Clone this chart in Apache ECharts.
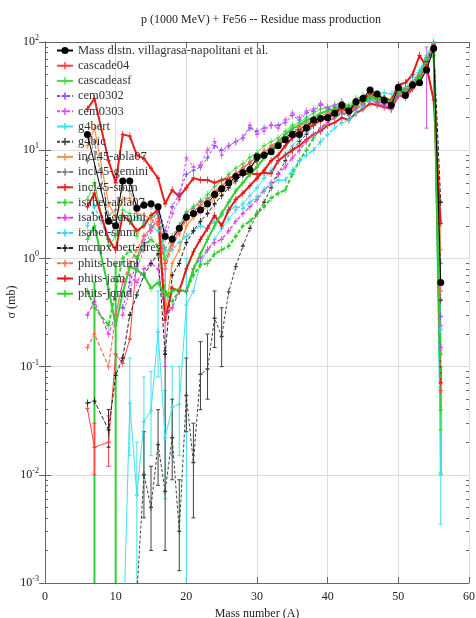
<!DOCTYPE html>
<html>
<head>
<meta charset="utf-8">
<script src="https://cdn.jsdelivr.net/npm/echarts@6/dist/echarts.min.js"></script>
<style>
html,body{margin:0;padding:0;background:#fff;}
#chart{width:476px;height:618px;}
</style>
</head>
<body>
<div id="chart"></div>
<script>
// ---- data (mass numbers A = 6 .. 56) ----
const massNumbers = [6,7,8,9,10,11,12,13,14,15,16,17,18,19,20,21,22,23,24,25,26,27,28,29,30,31,32,33,34,35,36,37,38,39,40,41,42,43,44,45,46,47,48,49,50,51,52,53,54,55,56];

const seriesNames = ['Mass distn. villagrasa-napolitani et al.','cascade04','cascadeasf','cem0302','cem0303','g4bert','g4bic','incl45-abla07','incl45-gemini','incl45-smm','isabel-abla07','isabel-gemini','isabel-smm','mcnpx-bert-dres','phits-bertini','phits-jam','phits-jqmd'];

const expMassDistn = [14,null,null,2.2,2.0, 5.2,5.2,2.9,3.1,3.2, 3.0,1.6,1.5,1.9,2.4, 2.6,2.8,3.2,3.9,4.4, 5.0,5.7,6.2,6.6,8.7, 9.0,9.7,11,12.5,14, 14,16,19,19.6,20, 22,26,23,28,30, 36,33,29,26,38, 32,40,42,55,87, 0.6];
const cascade04 = [0.041,0.018,null,0.020,0.13, 0.107,0.18,1.0,1.6,1.9, 2.2,0.9,1.4,1.8,2.3, 2.7,3.1,3.5,4.0,4.6, 5.3,6.0,6.6,7.8,8.6, 9.6,10.5,11.5,13,14.5, 15.5,17,18,19.5,21, 22,24,23,26,29, 31,30,29,27,36, 37,43,52,72,95, 0.06];
const cascadeasf = [3.5,5.0,null,1.3,1.6, 2.8,2.6,1.6,2.2,2.4, 2.6,1.0,1.5,2.0,2.7, 3.0,3.4,3.9,4.6,5.2, 6.0,6.8,7.5,8.6,9.5, 11,12,13,15,17, 18,20,22,24,25, 26,28,26,30,32, 35,33,31,29,38, 36,42,47,62,88, 0.026];
const cem0302 = [null,null,null,null,null, 0.35,0.6,0.9,1.4,2.0, 3.0,1.8,3.0,4.0,6.0, 6.5,7.0,8.5,11,10, 11,12,13,16,15, 16,17,17,18,21, 19,22,23,26,24, 25,27,24,28,30, 31,28,27,26,35, 33,40,45,65,95, 0.29];
const cem0303 = [null,null,null,null,null, 0.3,0.5,0.8,1.2,1.8, 2.6,1.5,2.6,3.5,8.5, 7.0,7.3,10,12,9, 11,12,13,17,14, 15,17,16,19,22, 20,23,24,27,25, 26,28,25,29,31, 32,29,26,24,34, 31,38,44,60,92, 0.24];
const g4bert = [null,null,null,null,null, 0.0002,0.046,0.0065,0.031,0.039, 0.21,0.022,0.042,0.045,0.37, 0.5,0.9,1.2,1.5,1.9, 2.3,2.8,3.2,3.8,4.5, 5.5,6.5,8,9,11, 13,15,17,19,21, 22,24,25,28,30, 33,33,34,33,40, 42,48,55,75,100, 0.0105];
const g4bic = [null,null,null,null,null, null,null,0.0008,0.01,0.005, 0.019,0.007,0.022,0.003,0.054, 0.013,0.085,0.095,0.28,0.19, 0.49,0.84,1.3,1.9,2.6, 3.3,4.5,6,8,10, 12,14,17,19,21, 22,25,24,27,30, 33,31,30,28,38, 35,42,50,70,96, 0.41];
const incl45Abla07 = [11,16,null,3.2,2.4, 3.5,3.6,2.6,2.5,2.3, 2.0,0.3,0.9,1.2,2.0, 2.4,2.7,3.0,3.6,4.2, 4.8,5.5,6.2,7.0,8.0, 9.0,10,11,12.5,14, 15,16.5,18,19,20, 21,23,22,25,27, 30,29,28,26,34, 33,40,48,64,90, 1.2];
const incl45Gemini = [8,12,null,2.5,2.8, 4.5,4.2,3.0,3.3,3.0, 2.6,1.2,1.6,2.0,2.6, 2.9,3.3,3.6,4.2,4.7, 5.4,6.1,6.8,7.6,8.6, 9.5,10.5,12,13,15, 16,17,19,20,21, 22,24,23,26,28, 31,30,28,27,35, 34,41,47,64,92, 0.9];
const incl45Smm = [24,30,null,8,5, 14,13.5,9,8.4,6.8, 5.5,3.2,4.3,3.7,4.5, 5.5,5.3,5.3,5.0,5.3, 5.5,5.8,6.0,6.1,6.0, 6.2,6.1,8,9,10, 11,12.5,14,15,17, 18,20,19,22,24, 27,26,25,24,32, 31,37,44,62,90, 0.071];
const isabelAbla07 = [0.5,0.35,null,0.24,0.5, 1.0,1.2,1.0,1.3,1.5, 1.3,0.5,0.4,0.5,0.5, 0.7,0.87,0.9,1.1,1.2, 1.3,1.6,2.0,2.2,2.6, 3.0,3.6,4.0,4.3,6, 8,10,13,16,18, 20,22,21,25,27, 30,28,27,26,34, 33,40,46,63,90, 0.04];
const isabelGemini = [0.3,0.4,null,0.2,0.3, 0.6,0.7,0.6,0.8,0.9, 0.8,0.3,0.35,0.5,0.5, 0.8,1.0,1.2,1.4,1.5, 1.8,2.2,2.6,3.0,3.5, 4.2,5,6,7,8.5, 10,12,14,16,18, 20,22,21,24,26, 29,27,26,24,32, 31,38,44,60,88, 0.15];
const isabelSmm = [2.0,3.0,null,1.5,2.0, 2.5,2.2,2.4,2.2,2.0, 1.8,1.2,1.2,1.4,1.6, 1.8,2.0,1.9,2.2,2.5, 2.8,3.0,2.9,3.3,3.7, 4.3,4.9,5.3,5.3,6.5, 8,9,10,12,14, 16,18,19,22,25, 29,30,29,28,37, 38,44,52,70,98, 0.22];
const mcnpxBertDres = [0.046,0.048,null,0.026,0.083, 0.12,0.3,0.46,0.7,0.9, 1.1,0.13,0.7,0.9,1.4, 1.8,2.2,2.6,3.2,3.8, 4.5,5.2,6.0,7.0,8.0, 9.0,10,11.5,13,14.5, 15.5,17,19,20,21, 23,25,24,27,29, 32,30,28,26,36, 34,41,48,66,94, 3.3];
const phitsBertini = [0.15,0.2,null,0.1,0.3, 0.6,0.9,1.2,1.6,1.9, 2.1,0.8,1.3,1.7,2.3, 2.7,3.1,3.5,4.1,4.7, 5.4,6.1,6.9,7.8,8.8, 9.8,11,12,14,15.5, 16.5,18,19.5,21,22, 23,25,24,27,29, 32,31,29,27,37, 35,42,50,68,96, 0.5];
const phitsJam = [3.0,4.0,null,1.5,1.2, 2.5,2.2,1.8,2.0,2.5, 2.8,0.27,0.53,0.5,0.8, 1.15,1.5,1.9,2.5,2.0, 2.8,3.5,4.0,4.7,5.5, 6.5,8,9,11,13, 14,16,17,19,20, 22,24,23,26,30, 33,32,30,29,40, 42,50,75,59,29, 2.1];
const phitsJqmd = [1.5,2.0,null,0.52,0.24, 0.48,0.84,0.78,0.7,0.53, 0.6,0.45,0.5,0.52,0.49, 0.8,1.1,1.5,2.0,2.6, 3.3,4.2,5.0,6.0,7.0, 8.5,10,12,14,16, 17,19,20,22,23, 24,26,25,27,29, 31,30,29,28,35, 35,40,48,68,75, 0.13];

// error bars: [series name, A, low (0 = down to zero), high]
const errorBars = [
  ['isabel-abla07', 7, 0, 0.6], ['isabel-abla07', 10, 0, 0.9], ['isabel-abla07', 56, 0.01, 0.1],
  ['g4bert', 12, 0.015, 0.12], ['g4bert', 13, 0, 0.02], ['g4bert', 14, 0.01, 0.08], ['g4bert', 15, 0.015, 0.09],
  ['g4bert', 16, 0.08, 0.5], ['g4bert', 17, 0.006, 0.06], ['g4bert', 18, 0.015, 0.1], ['g4bert', 19, 0.015, 0.1],
  ['g4bert', 20, 0, 1.0], ['g4bert', 56, 0.0035, 0.03],
  ['g4bic', 14, 0.004, 0.025], ['g4bic', 15, 0.002, 0.012], ['g4bic', 16, 0.008, 0.04], ['g4bic', 17, 0.002, 0.14],
  ['g4bic', 18, 0.009, 0.05], ['g4bic', 19, 0.0013, 0.009], ['g4bic', 20, 0.025, 0.12], ['g4bic', 21, 0.004, 0.03],
  ['g4bic', 22, 0.04, 0.17], ['g4bic', 23, 0.05, 0.2], ['g4bic', 24, 0.15, 0.5], ['g4bic', 25, 0.1, 0.35],
  ['isabel-gemini', 17, 0.1, 0.8], ['cem0303', 54, 16, 90],
  ['cascade04', 7, 0.01, 0.03], ['cascade04', 9, 0.012, 0.035], ['mcnpx-bert-dres', 9, 0.018, 0.04]
];

// y-axis major tick values (labels 10^-3 .. 10^2)
const yMajorTicks = [0.001, 0.01, 0.1, 1, 10, 100];

// ---- styling ----
const seriesValues = [expMassDistn, cascade04, cascadeasf, cem0302, cem0303, g4bert, g4bic, incl45Abla07, incl45Gemini, incl45Smm, isabelAbla07, isabelGemini, isabelSmm, mcnpxBertDres, phitsBertini, phitsJam, phitsJqmd];
const styles = [
  {c:'#000000', w:1, t:'solid', sym:'circle', s:7},
  {c:'#ff4040', w:1, t:'solid'},
  {c:'#40e040', w:1, t:'solid'},
  {c:'#7a50ff', w:1, t:[3,2]},
  {c:'#e050e8', w:1, t:[3,2]},
  {c:'#40e0f0', w:1, t:'solid'},
  {c:'#404040', w:1, t:[3,2]},
  {c:'#ff9040', w:1.2, t:'solid'},
  {c:'#808080', w:1, t:[4,2]},
  {c:'#e82020', w:2, t:'solid'},
  {c:'#30d030', w:2, t:[4,2], ew:2},
  {c:'#e040e0', w:1.2, t:[4,2]},
  {c:'#30d8e8', w:1.2, t:[4,2]},
  {c:'#202020', w:1, t:[4,2]},
  {c:'#ff7058', w:1.2, t:[4,2]},
  {c:'#e81818', w:2, t:'solid'},
  {c:'#30d030', w:2, t:'solid'}
];
const plusPath = 'path://M4,0H6V4H10V6H6V10H4V6H0V4H4Z';
const serif = 'Liberation Serif';

// minor tick positions (2..9 within each decade)
const yMinorTicks = [];
yMajorTicks.slice(0, -1).forEach(d => { for (let m = 2; m <= 9; m++) yMinorTicks.push(+(d * m).toPrecision(3)); });

const lineSeries = seriesNames.map((name, i) => {
  const st = styles[i];
  return {
    name: name,
    type: 'line',
    data: massNumbers.map((a, k) => [a, seriesValues[i][k]]).filter(p => p[1] !== null),
    connectNulls: true,
    symbol: st.sym || plusPath,
    symbolSize: st.s || [4, 7],
    showSymbol: true,
    clip: true,
    lineStyle: {color: st.c, width: st.w, type: st.t},
    itemStyle: {color: st.c},
    emphasis: {disabled: true},
    animation: false,
    z: i === 0 ? 5 : 3
  };
});

const errSeries = {
  name: 'errorbars',
  type: 'custom',
  clip: true,
  animation: false,
  silent: true,
  z: 2,
  encode: {x: 0, y: 2},
  data: errorBars.map(e => [e[1], e[2], e[3], seriesNames.indexOf(e[0])]),
  renderItem: function (params, api) {
    const x = api.value(0), lo = api.value(1), hi = api.value(2);
    const st = styles[api.value(3)];
    const col = st.c, lw = st.ew || 1;
    const pHi = api.coord([x, hi]);
    const pLo = api.coord([x, lo > 0 ? lo : 1e-9]);
    return {
      type: 'group',
      children: [
        {type:'line', shape:{x1:pLo[0], y1:pLo[1], x2:pHi[0], y2:pHi[1]}, style:{stroke:col, lineWidth:lw}},
        {type:'line', shape:{x1:pHi[0]-2, y1:pHi[1], x2:pHi[0]+2, y2:pHi[1]}, style:{stroke:col, lineWidth:1}},
        {type:'line', shape:{x1:pLo[0]-2, y1:pLo[1], x2:pLo[0]+2, y2:pLo[1]}, style:{stroke:col, lineWidth:1}}
      ]
    };
  }
};

const chart = echarts.init(document.getElementById('chart'), null, {renderer: 'canvas'});
const axisColor = '#666';
const minorAxis = (pos) => ({
  type: 'log', logBase: 10, min: 0.001, max: 100, position: pos,
  axisLine: {show: false},
  axisTick: {show: true, inside: true, length: 3, customValues: yMinorTicks, lineStyle: {color: axisColor}},
  axisLabel: {show: false}, splitLine: {show: false}
});
chart.setOption({
  backgroundColor: '#fff',
  animation: false,
  title: {
    text: 'p (1000 MeV) + Fe56 -- Residue mass production',
    left: 256, top: 9, textAlign: 'center',
    textStyle: {fontFamily: serif, fontSize: 12, fontWeight: 'normal', color: '#222'}
  },
  graphic: [{
    type: 'text', x: 12, y: 302, rotation: Math.PI / 2, silent: true,
    style: {text: 'σ (mb)', fontFamily: serif, fontSize: 12, fill: '#222', align: 'center', verticalAlign: 'middle'}
  }],
  legend: {
    data: seriesNames,
    orient: 'vertical',
    left: 56, top: 43,
    padding: 0,
    itemWidth: 16, itemHeight: 9, itemGap: 0.2,
    textStyle: {fontFamily: serif, fontSize: 12.5, color: '#333', lineHeight: 15, height: 15},
    selectedMode: false,
    backgroundColor: 'transparent'
  },
  grid: {left: 45, right: 7, top: 42, bottom: 35, containLabel: false, outerBoundsMode: 'none'},
  xAxis: [{
    type: 'value', min: 0, max: 60, interval: 10,
    name: 'Mass number (A)', nameLocation: 'middle', nameGap: 25,
    nameTextStyle: {fontFamily: serif, fontSize: 12, color: '#222'},
    axisLine: {show: true, lineStyle: {color: axisColor}},
    axisTick: {show: true, inside: true, length: 6, lineStyle: {color: axisColor}},
    axisLabel: {fontFamily: serif, fontSize: 12, color: '#222', margin: 8},
    splitLine: {show: true, lineStyle: {color: '#d4d4d4', width: 0.8}}
  }, {
    type: 'value', min: 0, max: 60, interval: 10, position: 'top',
    axisLine: {show: true, lineStyle: {color: axisColor}},
    axisTick: {show: true, inside: true, length: 6, lineStyle: {color: axisColor}},
    axisLabel: {show: false}, splitLine: {show: false}
  }],
  yAxis: [{
    type: 'log', logBase: 10, min: 0.001, max: 100,
    axisLine: {show: true, lineStyle: {color: axisColor}},
    axisTick: {show: true, inside: true, length: 6, customValues: yMajorTicks, lineStyle: {color: axisColor}},
    axisLabel: {
      margin: 6,
      customValues: yMajorTicks,
      formatter: function (v) {
        const e = Math.round(Math.log10(v));
        return '{b|10}{e|' + e + '}';
      },
      rich: {
        b: {fontFamily: serif, fontSize: 12, color: '#222'},
        e: {fontFamily: serif, fontSize: 8, color: '#222', padding: [0, 0, 8, 0]}
      }
    },
    splitLine: {show: true, lineStyle: {color: '#d4d4d4', width: 0.8}}
  }, {
    type: 'log', logBase: 10, min: 0.001, max: 100, position: 'right',
    axisLine: {show: true, lineStyle: {color: axisColor}},
    axisTick: {show: true, inside: true, length: 6, customValues: yMajorTicks, lineStyle: {color: axisColor}},
    axisLabel: {show: false}, splitLine: {show: false}
  }, minorAxis('left'), minorAxis('right')],
  series: [errSeries].concat(lineSeries)
});
</script>
</body>
</html>
